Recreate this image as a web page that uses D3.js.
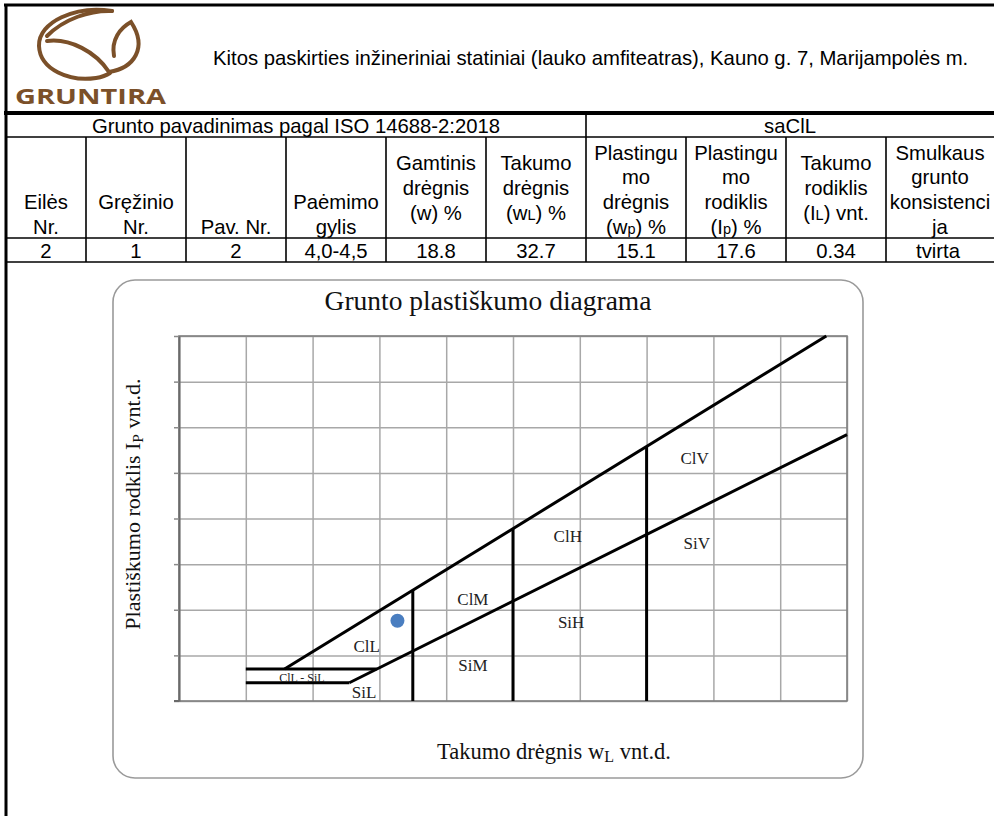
<!DOCTYPE html>
<html><head><meta charset="utf-8">
<script src="https://cdn.jsdelivr.net/npm/d3@7"></script>
<style>
html,body{margin:0;padding:0;background:#fff;}
svg{display:block;}
</style></head>
<body>
<script>
// ---------- DATA ----------
const headerTitle = "Kitos paskirties inžineriniai statiniai (lauko amfiteatras), Kauno g. 7, Marijampolės m.";
const brandName = "GRUNTIRA";
const tableTitleLeft = "Grunto pavadinimas pagal ISO 14688-2:2018";
const tableTitleRight = "saClL";
const columnHeads = [
  ["Eilės", "Nr."],
  ["Gręžinio", "Nr."],
  ["Pav. Nr."],
  ["Paėmimo", "gylis"],
  ["Gamtinis", "drėgnis", "(w) %"],
  ["Takumo", "drėgnis", "(w{L}) %"],
  ["Plastingu", "mo", "drėgnis", "(w{p}) %"],
  ["Plastingu", "mo", "rodiklis", "(I{p}) %"],
  ["Takumo", "rodiklis", "(I{L}) vnt."],
  ["Smulkaus", "grunto", "konsistenci", "ja"]
];
const columnValign = ["bottom","bottom","bottom","bottom","middle","middle","bottom","bottom","middle","bottom"];
const rowValues = ["2", "1", "2", "4,0-4,5", "18.8", "32.7", "15.1", "17.6", "0.34", "tvirta"];

const chartTitle = "Grunto plastiškumo diagrama";
const xTicks = [0, 10, 20, 30, 40, 50, 60, 70, 80, 90, 100];   // wL, %
const yTicks = [0, 10, 20, 30, 40, 50, 60, 70, 80];            // Ip, %
const uLine = [[15.8, 7], [96.9, 80]];
const aLine = [[25.5, 4], [100, 58.4]];
const limit7 = [[10, 7], [29.6, 7]];
const limit4 = [[10, 4], [25.5, 4]];
const dividerWL = [35, 50, 70];
const dividerTopIp = [24.3, 37.8, 55.8];
const zoneNames = ["ClV", "ClH", "SiV", "SiH", "ClM", "SiM", "ClL", "SiL", "ClL - SiL"];
const zoneWL = [77.2, 58.2, 77.5, 58.7, 44.0, 44.0, 28.1, 27.7, 18.4];
const zoneIp = [53.3, 36.2, 34.6, 17.3, 22.4, 7.9, 12.1, 2.0, 5.0];
const sampleWL = [32.7];
const sampleIp = [17.6];

// ---------- DRAW ----------
const W = 994, H = 816;
const svg = d3.select("body").append("svg").attr("width", W).attr("height", H);
const sans = "'Liberation Sans', Arial, Helvetica, sans-serif";
const serif = "'Liberation Serif', 'Times New Roman', serif";
const brown = "#7b5029";
const FS = 20.3;

// page borders
svg.append("line").attr("x1", 4).attr("x2", W).attr("y1", 5).attr("y2", 5).attr("stroke", "#000").attr("stroke-width", 3);
svg.append("line").attr("x1", 6).attr("x2", 6).attr("y1", 4).attr("y2", H).attr("stroke", "#000").attr("stroke-width", 3);

// logo
const logo = svg.append("g").attr("fill", "none").attr("stroke", brown).attr("stroke-width", 4).attr("stroke-linecap", "round");
logo.append("path").attr("d", "M47,36 C64,19 90,10 112,11");
logo.append("path").attr("d", "M112,11 C76,5 38,22 39,46 C40,70 70,82 96,78 C102,77 107,75 110,73");
logo.append("path").attr("d", "M47,41 C70,38 96,52 109,72");
logo.append("path").attr("d", "M109,72 C134,68 148,48 131,22 C120,28 111,40 114,56");
svg.append("text").text(brandName).attr("x", 15).attr("y", 104).attr("textLength", 151).attr("lengthAdjust", "spacingAndGlyphs")
  .attr("font-family", "'Open Sans', 'DejaVu Sans', sans-serif").attr("font-weight", "bold")
  .attr("font-size", 22).attr("fill", brown);

// header title
svg.append("text").text(headerTitle).attr("x", 213).attr("y", 65)
  .attr("font-family", sans).attr("font-size", FS).attr("fill", "#000");

// ---------- TABLE ----------
const colX = [6, 86, 186, 286, 386, 486, 586, 686, 786, 886, 994];
const rowY = [113, 137, 238, 262];
const tbl = svg.append("g");
tbl.append("line").attr("x1", 4).attr("x2", W).attr("y1", rowY[0]).attr("y2", rowY[0]).attr("stroke", "#000").attr("stroke-width", 4);
[rowY[1], rowY[2], rowY[3]].forEach(y => tbl.append("line").attr("x1", 6).attr("x2", W).attr("y1", y).attr("y2", y).attr("stroke", "#000").attr("stroke-width", 1.6));
tbl.append("line").attr("x1", 586).attr("x2", 586).attr("y1", rowY[0]).attr("y2", rowY[1]).attr("stroke", "#000").attr("stroke-width", 1.6);
colX.slice(1, 10).forEach(x => tbl.append("line").attr("x1", x).attr("x2", x).attr("y1", rowY[1]).attr("y2", rowY[3]).attr("stroke", "#000").attr("stroke-width", 1.6));

tbl.append("text").text(tableTitleLeft).attr("x", (6 + 586) / 2).attr("y", 133).attr("text-anchor", "middle")
  .attr("font-family", sans).attr("font-size", FS);
tbl.append("text").text(tableTitleRight).attr("x", (586 + 994) / 2).attr("y", 133).attr("text-anchor", "middle")
  .attr("font-family", sans).attr("font-size", FS);

const lineGap = 24.6;
columnHeads.forEach((lines, i) => {
  const cx = (colX[i] + colX[i + 1]) / 2;
  const n = lines.length;
  let lastBase = 233.5;
  if (columnValign[i] === "middle") lastBase = 188 + 7 + (n - 1) / 2 * lineGap;
  lines.forEach((ln, j) => {
    const t = tbl.append("text").attr("x", cx).attr("y", lastBase - (n - 1 - j) * lineGap)
      .attr("text-anchor", "middle").attr("font-family", sans).attr("font-size", FS);
    const parts = ln.split(/(\{[^}]*\})/).filter(p => p.length);
    parts.forEach(p => {
      if (p.startsWith("{")) t.append("tspan").attr("font-size", 14.5).text(p.slice(1, -1));
      else t.append("tspan").text(p);
    });
  });
});
rowValues.forEach((v, i) => {
  tbl.append("text").text(v).attr("x", (colX[i] + colX[i + 1]) / 2 - (i === 9 ? 2 : 0)).attr("y", 258)
    .attr("text-anchor", "middle").attr("font-family", sans).attr("font-size", FS);
});

// ---------- CHART ----------
svg.append("rect").attr("x", 113).attr("y", 280).attr("width", 750).attr("height", 498)
  .attr("rx", 22).attr("ry", 22).attr("fill", "#fff").attr("stroke", "#9a9a9a").attr("stroke-width", 1.6);

svg.append("text").text(chartTitle).attr("x", 488).attr("y", 310).attr("text-anchor", "middle")
  .attr("font-family", serif).attr("font-size", 27.5).attr("fill", "#111");

const x = d3.scaleLinear().domain([0, 100]).range([179, 847]);
const y = d3.scaleLinear().domain([0, 80]).range([701, 336]);

const plot = svg.append("g");
// grid
plot.append("g").attr("transform", `translate(0,${y(0)})`)
  .call(d3.axisBottom(x).tickValues(xTicks).tickSize(-(y(0) - y(80))).tickFormat(""))
  .call(g => g.select(".domain").remove())
  .call(g => g.selectAll(".tick line").attr("stroke", "#a8a8a8").attr("stroke-width", 1.5));
plot.append("g").attr("transform", `translate(${x(0)},0)`)
  .call(d3.axisLeft(y).tickValues(yTicks).tickSize(-(x(100) - x(0))).tickFormat(""))
  .call(g => g.select(".domain").remove())
  .call(g => g.selectAll(".tick line").attr("stroke", "#a8a8a8").attr("stroke-width", 1.5));
// frame
plot.append("rect").attr("x", x(0)).attr("y", y(80)).attr("width", x(100) - x(0)).attr("height", y(0) - y(80))
  .attr("fill", "none").attr("stroke", "#808080").attr("stroke-width", 1.6);
// left axis with outside ticks
plot.append("g").attr("transform", `translate(${x(0)},0)`)
  .call(d3.axisLeft(y).tickValues(yTicks).tickSize(5).tickSizeOuter(0).tickFormat(""))
  .call(g => g.select(".domain").attr("stroke", "#6a6a6a").attr("stroke-width", 2))
  .call(g => g.selectAll(".tick line").attr("stroke", "#8a8a8a").attr("stroke-width", 1.5));
plot.append("line").attr("x1", x(0) - 5).attr("x2", x(0)).attr("y1", y(0)).attr("y2", y(0)).attr("stroke", "#6a6a6a").attr("stroke-width", 2);

// boundary lines
const ln = d3.line().x(d => x(d[0])).y(d => y(d[1]));
const bold = plot.append("g").attr("fill", "none").attr("stroke", "#000").attr("stroke-width", 3);
[uLine, aLine, limit7, limit4].forEach(pts => bold.append("path").attr("d", ln(pts)));
dividerWL.forEach((wl, i) => bold.append("path").attr("d", ln([[wl, 0], [wl, dividerTopIp[i]]])));

// zone labels
zoneNames.forEach((nm, i) => {
  plot.append("text").text(nm).attr("x", x(zoneWL[i])).attr("y", y(zoneIp[i])).attr("dy", "0.35em")
    .attr("text-anchor", "middle").attr("font-family", serif)
    .attr("font-size", i === 8 ? 12 : 17).attr("fill", "#222");
});

// sample point
plot.selectAll("circle.pt").data(sampleWL).join("circle").attr("class", "pt")
  .attr("cx", d => x(d)).attr("cy", (d, i) => y(sampleIp[i])).attr("r", 7).attr("fill", "#4a7ec0");

// axis titles
const xt = svg.append("text").attr("x", 554).attr("y", 759).attr("text-anchor", "middle")
  .attr("font-family", serif).attr("font-size", 22.5).attr("fill", "#111");
xt.append("tspan").text("Takumo drėgnis w");
xt.append("tspan").text("L").attr("font-size", 16).attr("dy", 3);
xt.append("tspan").text(" vnt.d.").attr("dy", -3);

const yt = svg.append("text").attr("transform", "translate(140,504) rotate(-90)").attr("text-anchor", "middle")
  .attr("font-family", serif).attr("font-size", 22).attr("fill", "#111");
yt.append("tspan").text("Plastiškumo rodklis I");
yt.append("tspan").text("P").attr("font-size", 15.5).attr("dy", 3);
yt.append("tspan").text(" vnt.d.").attr("dy", -3);
</script>
</body></html>
